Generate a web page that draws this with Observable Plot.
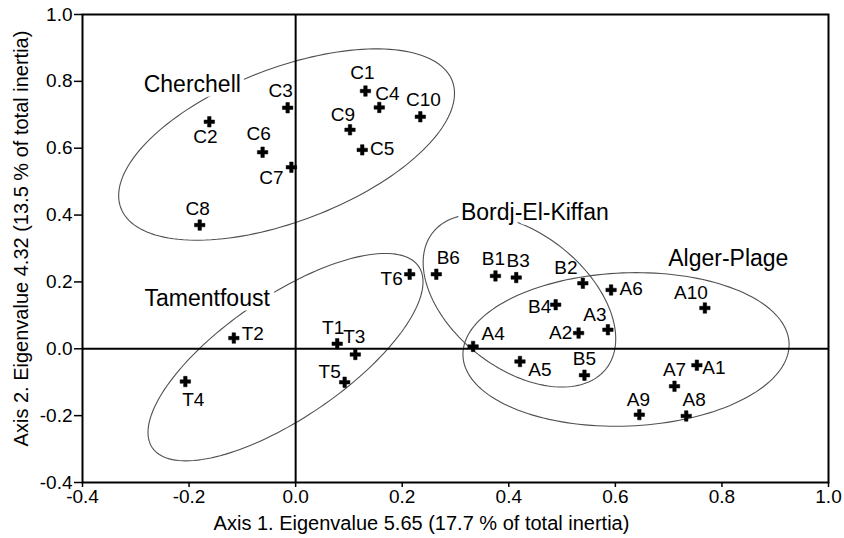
<!DOCTYPE html>
<html><head><meta charset="utf-8">
<script src="https://cdn.jsdelivr.net/npm/d3@7"></script>
<script src="https://cdn.jsdelivr.net/npm/@observablehq/plot@0.6"></script>
<style>
body{margin:0;background:#fff}
svg{font-family:"Liberation Sans",Arial,sans-serif}
</style>
</head><body><div id="chart"></div>
<script>
// ---- data ----
const names = ["C1","C2","C3","C4","C5","C6","C7","C8","C9","C10",
               "T1","T2","T3","T4","T5","T6",
               "B1","B2","B3","B4","B5","B6",
               "A1","A2","A3","A4","A5","A6","A7","A8","A9","A10"];
const axis1 = [0.131,-0.162,-0.015,0.157,0.125,-0.062,-0.008,-0.180,0.102,0.234,
               0.078,-0.116,0.112,-0.207,0.092,0.214,
               0.375,0.539,0.414,0.488,0.542,0.264,
               0.753,0.531,0.586,0.333,0.421,0.592,0.711,0.733,0.645,0.768];
const axis2 = [0.771,0.679,0.721,0.722,0.595,0.588,0.543,0.370,0.655,0.694,
               0.015,0.032,-0.017,-0.098,-0.100,0.223,
               0.218,0.196,0.213,0.132,-0.079,0.223,
               -0.049,0.047,0.057,0.007,-0.038,0.176,-0.112,-0.201,-0.197,0.122];
const xTicks = [-0.4,-0.2,0.0,0.2,0.4,0.6,0.8,1.0];
const yTicks = [-0.4,-0.2,0.0,0.2,0.4,0.6,0.8,1.0];
const xTitle = "Axis 1. Eigenvalue 5.65 (17.7 % of total inertia)";
const yTitle = "Axis 2. Eigenvalue 4.32 (13.5 % of total inertia)";

// groups: label anchor (data units) and ellipse (centre + two conjugate semi-axes, data units)
const groupNames  = ["Cherchell","Tamentfoust","Bordj-El-Kiffan","Alger-Plage"];
const groupLabelX = [-0.194,-0.166,0.449,0.812];
const groupLabelY = [0.789,0.149,0.407,0.271];
const ellCx = [-0.017,-0.019,0.420,0.620];
const ellCy = [0.611,-0.025,0.144,-0.002];
const ellAx = [0.311,0.250,0.163,0.306];
const ellAy = [0.190,0.271,-0.203,0.019];
const ellBx = [-0.051,-0.064,0.078,-0.006];
const ellBy = [0.214,0.151,0.160,0.229];

// ---- label placement (style: pixel offsets of each point label) ----
const labelOffset = {
  C1:[-3,-18],C2:[-4,15],C3:[-7,-17],C4:[8,-14],C5:[20,-1],C6:[-4,-18],C7:[-20,11],C8:[-2,-16],C9:[-7,-15],C10:[3,-17],
  T1:[-4,-16],T2:[19,-4],T3:[-1,-18],T4:[8,18],T5:[-15,-10],T6:[-18,5],
  B1:[-2,-17],B2:[-17,-15],B3:[2,-17],B4:[-16,2],B5:[0,-16],B6:[12,-16],
  A1:[17,3],A2:[-18,0],A3:[-13,-15],A4:[20,-13],A5:[20,8],A6:[20,-1],A7:[0,-16],A8:[8,-16],A9:[-1,-15],A10:[-14,-15]
};

const points = names.map((n,i)=>({name:n, x:axis1[i], y:axis2[i]}));
const groups = groupNames.map((g,i)=>({name:g, x:groupLabelX[i], y:groupLabelY[i]}));
const ellipsePts = [];
groupNames.forEach((g,i)=>{
  for(let k=0;k<=160;k++){
    const t = 2*Math.PI*k/160;
    ellipsePts.push({group:g,
      x: ellCx[i] + ellAx[i]*Math.cos(t) + ellBx[i]*Math.sin(t),
      y: ellCy[i] + ellAy[i]*Math.cos(t) + ellBy[i]*Math.sin(t)});
  }
});

const font = "Liberation Sans, Arial, sans-serif";
const fmt = d => d.toFixed(1);
const labelMarks = points.map(p => Plot.text([p], {
  x:"x", y:"y", text:"name", dx: labelOffset[p.name][0], dy: labelOffset[p.name][1],
  fontSize: 19, fill:"black", fontFamily: font
}));

const chart = Plot.plot({
  width: 844, height: 538,
  marginLeft: 82, marginRight: 16, marginTop: 14, marginBottom: 56,
  style: {fontFamily: font, background: "white", color: "black"},
  x: {domain:[-0.4,1.0]},
  y: {domain:[-0.4,1.0]},
  marks: [
    Plot.line(ellipsePts, {x:"x", y:"y", z:"group", stroke:"#505050", strokeWidth:1.1}),
    Plot.ruleX([0], {stroke:"black", strokeWidth:2}),
    Plot.ruleY([0], {stroke:"black", strokeWidth:2}),
    Plot.frame({stroke:"black", strokeWidth:2}),
    Plot.axisX({ticks:xTicks, tickFormat:fmt, tickSize:5, tickPadding:2, fontSize:19, label:null, strokeWidth:1.5}),
    Plot.axisY({ticks:yTicks, tickFormat:fmt, tickSize:8, tickPadding:2, fontSize:19, label:null, strokeWidth:1.5}),
    Plot.dot(points, {x:"x", y:"y", symbol:d3.symbolCross, r:4.4, fill:"black", stroke:"black", strokeWidth:0.5}),
    ...labelMarks,
    Plot.text(groups, {x:"x", y:"y", text:"name", fontSize:23, fill:"black", stroke:"white", strokeWidth:9, fontFamily: font}),
    Plot.text([xTitle], {text:d=>d, frameAnchor:"bottom", textAnchor:"middle", lineAnchor:"middle", dx:-34, dy:41, fontSize:20, fill:"black", fontFamily: font}),
    Plot.text([yTitle], {text:d=>d, frameAnchor:"left", textAnchor:"middle", lineAnchor:"middle", rotate:-90, dx:-61, dy:-10, fontSize:20, fill:"black", fontFamily: font})
  ]
});
document.getElementById("chart").appendChild(chart);
</script>
</body></html>
